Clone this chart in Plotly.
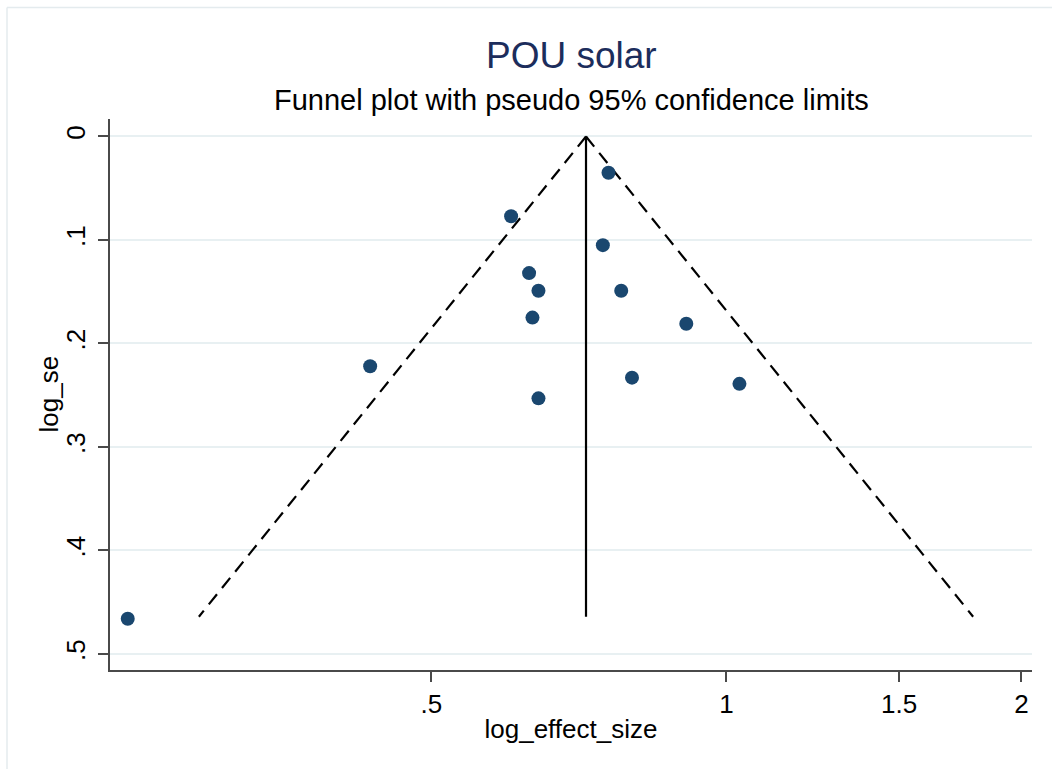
import numpy as np
import plotly.graph_objects as go

# Study estimates (effect size, displayed on a log scale) and their standard errors
effect_size = [0.758, 0.603, 0.748, 0.629, 0.643, 0.781, 0.634, 0.910,
               0.433, 0.801, 1.031, 0.643, 0.245]
log_se = [0.035, 0.077, 0.105, 0.132, 0.149, 0.149, 0.175, 0.181,
          0.222, 0.233, 0.239, 0.253, 0.466]

# Pooled estimate and the largest standard error covered by the funnel
pooled = 0.719
se_max = 0.464
z95 = 1.96

x_ticks = [0.5, 1, 1.5, 2]
x_tick_text = [".5", "1", "1.5", "2"]
y_ticks = [0, 0.1, 0.2, 0.3, 0.4, 0.5]
y_tick_text = ["0", ".1", ".2", ".3", ".4", ".5"]

se_line = np.array([0.0, se_max])
lower = np.exp(np.log(pooled) - z95 * se_line)
upper = np.exp(np.log(pooled) + z95 * se_line)

FONT = "Liberation Sans, Arial, sans-serif"
AXIS_COLOR = "#4a4a4a"
GRID_COLOR = "#e8f0f2"

fig = go.Figure()

# pseudo 95% confidence limits
for xs in (lower, upper):
    fig.add_trace(go.Scatter(
        x=xs, y=se_line, mode="lines",
        line=dict(color="black", width=2.2, dash="13px,8px"),
        hoverinfo="skip", showlegend=False))

# pooled estimate line
fig.add_trace(go.Scatter(
    x=[pooled, pooled], y=se_line, mode="lines",
    line=dict(color="black", width=2.2),
    hoverinfo="skip", showlegend=False))

# studies
fig.add_trace(go.Scatter(
    x=effect_size, y=log_se, mode="markers",
    marker=dict(color="#1a476f", size=14, line=dict(width=0)),
    showlegend=False))

L, R, T, B = 110, 20, 119, 99
W, H = 1052, 769
pw, ph = W - L - R, H - T - B

def px_to_paper_x(px):
    return (px - L) / pw

def px_to_paper_y(py):
    return (H - B - py) / ph

fig.update_layout(
    width=W, height=H,
    margin=dict(l=L, r=R, t=T, b=B, pad=0),
    paper_bgcolor="white", plot_bgcolor="white",
    font=dict(family=FONT, color="black"),
    showlegend=False,
    xaxis=dict(
        type="log",
        range=[np.log10(0.235), np.log10(2.05)],
        tickvals=x_ticks, ticktext=x_tick_text,
        tickfont=dict(size=26),
        ticks="outside", ticklen=10, tickwidth=1.5, tickcolor=AXIS_COLOR,
        showline=True, linecolor=AXIS_COLOR, linewidth=1.5,
        showgrid=False, zeroline=False,
        title=dict(text="log_effect_size", font=dict(size=26), standoff=2),
    ),
    yaxis=dict(
        range=[0.5155, -0.0169],
        tickvals=y_ticks, ticktext=y_tick_text,
        tickangle=-90,
        tickfont=dict(size=26),
        ticklabelstandoff=3,
        ticks="outside", ticklen=10, tickwidth=1.5, tickcolor=AXIS_COLOR,
        showline=True, linecolor=AXIS_COLOR, linewidth=1.5,
        showgrid=True, gridcolor=GRID_COLOR, gridwidth=2,
        zeroline=False,
    ),
    annotations=[
        dict(text="POU solar", x=0.5, xref="paper", y=px_to_paper_y(55),
             yref="paper", xanchor="center", yanchor="middle",
             showarrow=False, font=dict(size=37, color="#1c2d5c", family=FONT)),
        dict(text="Funnel plot with pseudo 95% confidence limits", x=0.5,
             xref="paper", y=px_to_paper_y(100), yref="paper",
             xanchor="center", yanchor="middle", showarrow=False,
             font=dict(size=29, color="black", family=FONT)),
        dict(text="log_se", textangle=-90, x=px_to_paper_x(48), xref="paper",
             y=0.5, yref="paper", xanchor="center", yanchor="middle",
             showarrow=False, font=dict(size=26, color="black", family=FONT)),
    ],
    shapes=[
        dict(type="line", xref="paper", yref="paper",
             x0=px_to_paper_x(7), x1=px_to_paper_x(1060),
             y0=px_to_paper_y(7.5), y1=px_to_paper_y(7.5),
             line=dict(color="#e4ebee", width=1.5)),
        dict(type="line", xref="paper", yref="paper",
             x0=px_to_paper_x(7), x1=px_to_paper_x(7),
             y0=px_to_paper_y(7.5), y1=px_to_paper_y(780),
             line=dict(color="#e4ebee", width=1.5)),
    ],
)

fig.write_html("out.html")
